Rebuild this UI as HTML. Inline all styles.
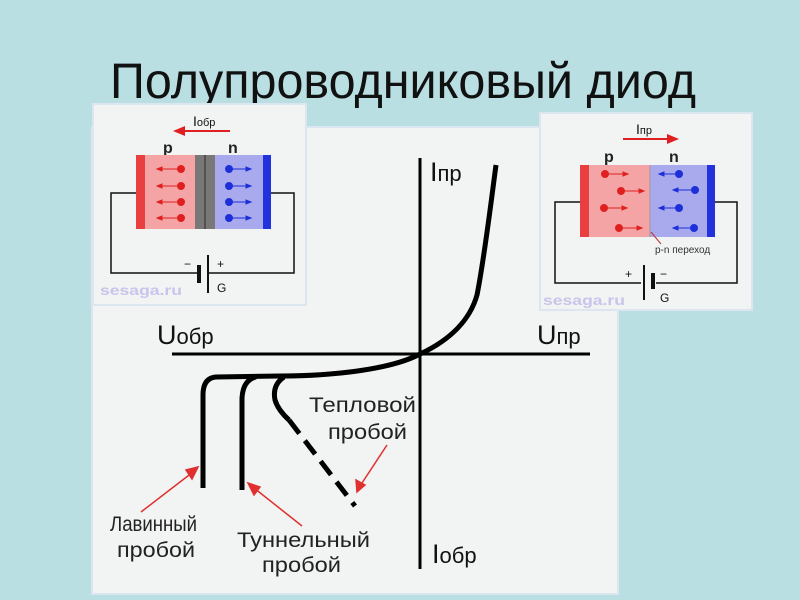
<!DOCTYPE html>
<html><head><meta charset="utf-8"><style>
html,body{margin:0;padding:0;background:#b9dfe3;}
svg{display:block;}
text{font-family:"Liberation Sans",sans-serif;}
.n{font-family:"Liberation Sans Narrow","Liberation Sans",sans-serif;}
</style></head><body>
<svg width="800" height="600" viewBox="0 0 800 600" xmlns="http://www.w3.org/2000/svg">
<rect width="800" height="600" fill="#b9dfe3"/>
<text x="110" y="98" font-size="50" textLength="586" lengthAdjust="spacingAndGlyphs" fill="#111">Полупроводниковый диод</text>
<!-- main panel -->
<rect x="92" y="127" width="526" height="467" fill="#f1f4f3" stroke="#dbe6f0" stroke-width="2"/>
<!-- axes -->
<line x1="420" y1="158" x2="420" y2="569" stroke="#000" stroke-width="3"/>
<line x1="172" y1="354" x2="590" y2="354" stroke="#000" stroke-width="3"/>
<!-- forward curve -->
<path d="M420 354 C450 340 470 320 477 295 C484 260 490 210 496 165" fill="none" stroke="#000" stroke-width="5"/>
<!-- reverse -->
<path d="M420 354 C390 370 330 376 280 376 L216 377 Q203 378 203 395 L203 488" fill="none" stroke="#000" stroke-width="5"/>
<path d="M256 377 Q243 380 242 398 L242 490" fill="none" stroke="#000" stroke-width="5"/>
<path d="M284 377 Q272 385 275 400 Q278 410 289 420" fill="none" stroke="#000" stroke-width="5"/>
<path d="M289 420 L355 506" fill="none" stroke="#000" stroke-width="5" stroke-dasharray="17,9"/>
<!-- red arrows -->
<g stroke="#e03030" stroke-width="1.5" fill="#e03030">
<line x1="141" y1="512" x2="193" y2="472"/><polygon points="198,467 186,470 192,479"/>
<line x1="302" y1="526" x2="254" y2="488"/><polygon points="248,483 254,495 260,487"/>
<line x1="387" y1="445" x2="360" y2="486"/><polygon points="357,492 356,480 365,485"/>
</g>
<!-- labels -->
<text x="157" y="344" font-size="27" fill="#111" class="n">U<tspan font-size="22">обр</tspan></text>
<text x="537" y="344" font-size="27" fill="#111" class="n">U<tspan font-size="22">пр</tspan></text>
<text x="430" y="181" font-size="27" fill="#111" class="n">I<tspan font-size="22">пр</tspan></text>
<text x="432" y="563" font-size="27" fill="#111" class="n">I<tspan font-size="22">обр</tspan></text>
<g font-size="21" fill="#222" class="n">
<text x="309" y="412" textLength="107" lengthAdjust="spacingAndGlyphs">Тепловой</text>
<text x="328" y="439" textLength="79" lengthAdjust="spacingAndGlyphs">пробой</text>
<text x="110" y="531" textLength="87" lengthAdjust="spacingAndGlyphs">Лавинный</text>
<text x="117" y="557" textLength="78" lengthAdjust="spacingAndGlyphs">пробой</text>
<text x="237" y="547" textLength="133" lengthAdjust="spacingAndGlyphs">Туннельный</text>
<text x="262" y="572" textLength="79" lengthAdjust="spacingAndGlyphs">пробой</text>
</g>
<!-- left inset -->
<rect x="93" y="104" width="213" height="201" fill="#f1f4f3" stroke="#dbe6f0" stroke-width="2"/>
<text x="193" y="126" font-size="14" fill="#111" class="n">I<tspan font-size="11">обр</tspan></text>
<line x1="230" y1="131" x2="182" y2="131" stroke="#e02020" stroke-width="2"/>
<polygon points="173,131 185,126 185,136" fill="#e02020"/>
<text x="163" y="153" font-size="16" font-weight="bold" fill="#222">p</text>
<text x="228" y="153" font-size="16" font-weight="bold" fill="#222">n</text>
<polyline points="136,193 111,193 111,273 198,273" fill="none" stroke="#111" stroke-width="1.5"/>
<polyline points="271,193 294,193 294,273 209,273" fill="none" stroke="#111" stroke-width="1.5"/>
<rect x="136" y="155" width="135" height="74" fill="#aaa"/>
<rect x="136" y="155" width="9" height="74" fill="#e84040"/>
<rect x="145" y="155" width="50" height="74" fill="#f4a4a4"/>
<rect x="195" y="155" width="20" height="74" fill="#7a7777"/>
<line x1="205" y1="155" x2="205" y2="229" stroke="#444" stroke-width="1.5"/>
<rect x="215" y="155" width="48" height="74" fill="#a9aaee"/>
<rect x="263" y="155" width="8" height="74" fill="#2233dd"/>
<g fill="#e02020" stroke="#e02020" stroke-width="1">
<circle cx="181" cy="169" r="3.5"/><line x1="181" y1="169" x2="160" y2="169"/><polygon points="157,169 162,167 162,171"/>
<circle cx="181" cy="186" r="3.5"/><line x1="181" y1="186" x2="160" y2="186"/><polygon points="157,186 162,184 162,188"/>
<circle cx="181" cy="202" r="3.5"/><line x1="181" y1="202" x2="160" y2="202"/><polygon points="157,202 162,200 162,204"/>
<circle cx="181" cy="218" r="3.5"/><line x1="181" y1="218" x2="160" y2="218"/><polygon points="157,218 162,216 162,220"/>
</g>
<g fill="#1d2fd8" stroke="#1d2fd8" stroke-width="1">
<circle cx="229" cy="169" r="3.5"/><line x1="229" y1="169" x2="248" y2="169"/><polygon points="251,169 246,167 246,171"/>
<circle cx="229" cy="186" r="3.5"/><line x1="229" y1="186" x2="248" y2="186"/><polygon points="251,186 246,184 246,188"/>
<circle cx="229" cy="202" r="3.5"/><line x1="229" y1="202" x2="248" y2="202"/><polygon points="251,202 246,200 246,204"/>
<circle cx="229" cy="218" r="3.5"/><line x1="229" y1="218" x2="248" y2="218"/><polygon points="251,218 246,216 246,220"/>
</g>
<rect x="197" y="265" width="4" height="18" fill="#111"/>
<rect x="207" y="255" width="2" height="38" fill="#111"/>
<text x="184" y="268" font-size="12" fill="#111">−</text>
<text x="217" y="268" font-size="12" fill="#111">+</text>
<text x="217" y="292" font-size="12" fill="#111">G</text>
<text x="100" y="295" font-size="14" font-weight="bold" fill="#c8c4ec" textLength="82" lengthAdjust="spacingAndGlyphs">sesaga.ru</text>
<!-- right inset -->
<rect x="540" y="113" width="212" height="197" fill="#f1f4f3" stroke="#dbe6f0" stroke-width="2"/>
<text x="636" y="134" font-size="14" fill="#111" class="n">I<tspan font-size="11">пр</tspan></text>
<line x1="623" y1="139" x2="670" y2="139" stroke="#e02020" stroke-width="2"/>
<polygon points="679,139 667,134 667,144" fill="#e02020"/>
<text x="604" y="162" font-size="16" font-weight="bold" fill="#222">p</text>
<text x="669" y="162" font-size="16" font-weight="bold" fill="#222">n</text>
<polyline points="580,202 555,202 555,283 641,283" fill="none" stroke="#111" stroke-width="1.5"/>
<polyline points="715,202 737,202 737,283 656,283" fill="none" stroke="#111" stroke-width="1.5"/>
<rect x="580" y="165" width="9" height="72" fill="#e84040"/>
<rect x="589" y="165" width="61" height="72" fill="#f4a4a4"/>
<rect x="650" y="165" width="57" height="72" fill="#a9aaee"/>
<rect x="707" y="165" width="8" height="72" fill="#2233dd"/>
<line x1="650" y1="165" x2="650" y2="237" stroke="#999" stroke-width="1"/>
<g fill="#e02020" stroke="#e02020" stroke-width="1">
<circle cx="605" cy="174" r="3.5"/><line x1="605" y1="174" x2="625" y2="174"/><polygon points="628,174 623,172 623,176"/>
<circle cx="621" cy="191" r="3.5"/><line x1="621" y1="191" x2="641" y2="191"/><polygon points="644,191 639,189 639,193"/>
<circle cx="604" cy="208" r="3.5"/><line x1="604" y1="208" x2="624" y2="208"/><polygon points="627,208 622,206 622,210"/>
<circle cx="619" cy="228" r="3.5"/><line x1="619" y1="228" x2="639" y2="228"/><polygon points="642,228 637,226 637,230"/>
</g>
<g fill="#1d2fd8" stroke="#1d2fd8" stroke-width="1">
<circle cx="679" cy="174" r="3.5"/><line x1="679" y1="174" x2="662" y2="174"/><polygon points="659,174 664,172 664,176"/>
<circle cx="695" cy="190" r="3.5"/><line x1="695" y1="190" x2="676" y2="190"/><polygon points="673,190 678,188 678,192"/>
<circle cx="679" cy="208" r="3.5"/><line x1="679" y1="208" x2="662" y2="208"/><polygon points="659,208 664,206 664,210"/>
<circle cx="694" cy="228" r="3.5"/><line x1="694" y1="228" x2="676" y2="228"/><polygon points="673,228 678,226 678,230"/>
</g>
<line x1="651" y1="232" x2="661" y2="244" stroke="#c03030" stroke-width="1"/>
<text x="655" y="253" font-size="10" fill="#333">p-n переход</text>
<rect x="643" y="265" width="2" height="35" fill="#111"/>
<rect x="651" y="273" width="4" height="16" fill="#111"/>
<text x="625" y="278" font-size="12" fill="#111">+</text>
<text x="660" y="278" font-size="12" fill="#111">−</text>
<text x="660" y="302" font-size="12" fill="#111">G</text>
<text x="543" y="305" font-size="14" font-weight="bold" fill="#c8c4ec" textLength="82" lengthAdjust="spacingAndGlyphs">sesaga.ru</text>
</svg>
</body></html>
